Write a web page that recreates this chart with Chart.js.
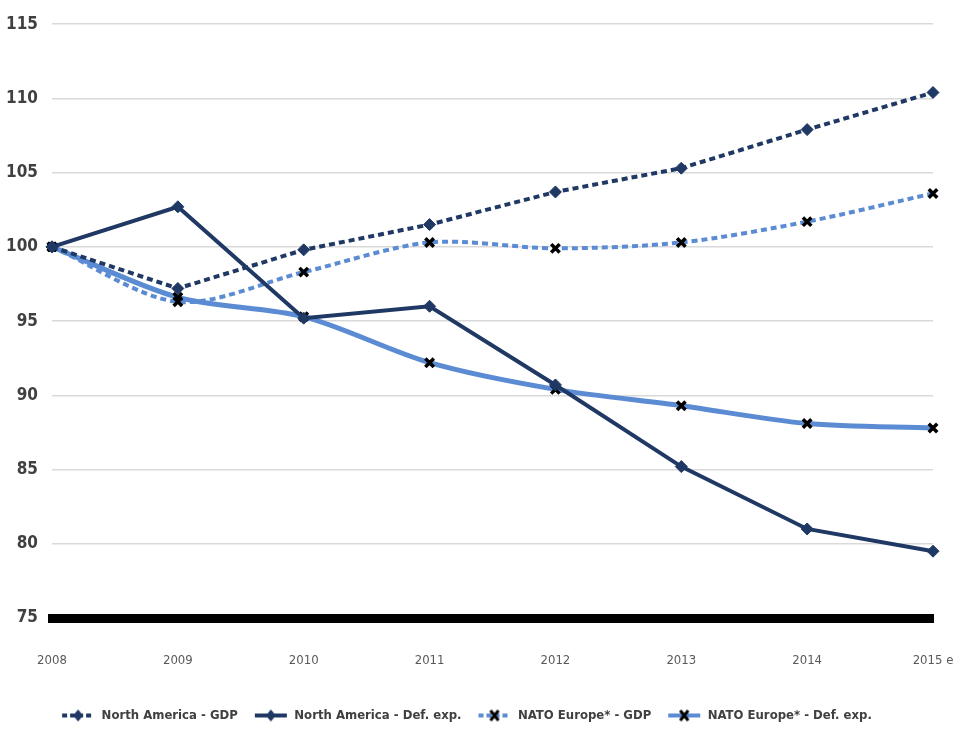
<!DOCTYPE html>
<html><head><meta charset="utf-8">
<script src="https://cdn.jsdelivr.net/npm/chart.js@4/dist/chart.umd.min.js"></script>
<style>html,body{margin:0;padding:0;background:#fff}#wrap{width:957px;height:732px}</style>
</head><body><div id="wrap"><canvas id="c" width="957" height="732"></canvas></div>
<script>
const categories = ["2008","2009","2010","2011","2012","2013","2014","2015 e"];
const northAmericaGDP = [100, 97.2, 99.8, 101.5, 103.7, 105.3, 107.9, 110.4];
const northAmericaDef = [100, 102.7, 95.2, 96.0, 90.7, 85.2, 81.0, 79.5];
const natoEuropeGDP = [100, 96.3, 98.3, 100.3, 99.9, 100.3, 101.7, 103.6];
const natoEuropeDef = [100, 96.6, 95.3, 92.2, 90.4, 89.3, 88.1, 87.8];
const yTicks = [75, 80, 85, 90, 95, 100, 105, 110, 115];

const NAVY = '#1f3864';
const LIGHT = '#5b8bd3';
const FONT = '"Liberation Sans Narrow", "DejaVu Sans Condensed", "Liberation Sans", sans-serif';

function legendIcon(color, dashed, marker) {
  const cv = document.createElement('canvas');
  cv.width = 34; cv.height = 14;
  const g = cv.getContext('2d');
  g.strokeStyle = color; g.lineWidth = 4;
  if (dashed) g.setLineDash([5, 3]);
  g.beginPath(); g.moveTo(1, 7); g.lineTo(33, 7); g.stroke();
  g.setLineDash([]);
  if (marker === 'diamond') {
    g.fillStyle = NAVY;
    g.beginPath(); g.moveTo(17, 1); g.lineTo(22, 7); g.lineTo(17, 13); g.lineTo(12, 7); g.closePath(); g.fill();
  } else {
    g.strokeStyle = '#000'; g.lineWidth = 3;
    g.beginPath(); g.moveTo(13, 2); g.lineTo(21, 12); g.moveTo(21, 2); g.lineTo(13, 12); g.stroke();
  }
  return cv;
}

const datasets = [
  {label:'North America - GDP', data:northAmericaGDP, borderColor:NAVY, borderWidth:4, borderDash:[6,4],
   pointStyle:'rectRot', pointRadius:6, pointBackgroundColor:NAVY, pointBorderColor:NAVY, pointBorderWidth:1,
   icon: legendIcon(NAVY, true, 'diamond')},
  {label:'North America - Def. exp.', data:northAmericaDef, borderColor:NAVY, borderWidth:4,
   pointStyle:'rectRot', pointRadius:6, pointBackgroundColor:NAVY, pointBorderColor:NAVY, pointBorderWidth:1,
   icon: legendIcon(NAVY, false, 'diamond')},
  {label:'NATO Europe* - GDP', data:natoEuropeGDP, borderColor:LIGHT, borderWidth:4, borderDash:[6,4],
   tension:0.3,
   pointStyle:'crossRot', pointRadius:6, pointBorderColor:'#000', pointBorderWidth:3.5,
   icon: legendIcon(LIGHT, true, 'x')},
  {label:'NATO Europe* - Def. exp.', data:natoEuropeDef, borderColor:LIGHT, borderWidth:5,
   tension:0.3,
   pointStyle:'crossRot', pointRadius:6, pointBorderColor:'#000', pointBorderWidth:3.5,
   icon: legendIcon(LIGHT, false, 'x')}
];

new Chart(document.getElementById('c'), {
  type:'line',
  data:{labels:categories, datasets:datasets},
  options:{
    responsive:false, animation:false,
    layout:{padding:{top:24, right:24, left:0, bottom:0}},
    plugins:{
      tooltip:{enabled:false},
      legend:{position:'bottom',
        labels:{font:{family:FONT, size:13, weight:'bold'}, color:'#404040', usePointStyle:true, pointStyleWidth:34, padding:16,
          generateLabels:(chart)=>chart.data.datasets.map((d,i)=>({text:d.label, pointStyle:d.icon, fillStyle:d.borderColor,
            strokeStyle:d.borderColor, lineWidth:0, hidden:false, datasetIndex:i, fontColor:'#404040'}))}}
    },
    scales:{
      x:{offset:false,
        grid:{display:false, drawTicks:false},
        border:{display:true, color:'#000', width:9},
        ticks:{font:{family:FONT, size:13}, color:'#595959', padding:35, maxRotation:0, autoSkip:false},
        afterFit:(s)=>{s.height = 75; s.paddingLeft = 0; s.paddingRight = 0;}
      },
      y:{min:75, max:115,
        afterBuildTicks:(s)=>{s.ticks = yTicks.map(v=>({value:v}));},
        grid:{color:'#d9d9d9', lineWidth:1.5, drawTicks:false},
        border:{display:false},
        ticks:{font:{family:FONT, size:17, weight:'bold'}, color:'#404040', padding:14},
        afterFit:(s)=>{s.width = 52;}
      }
    }
  }
});
</script></body></html>
